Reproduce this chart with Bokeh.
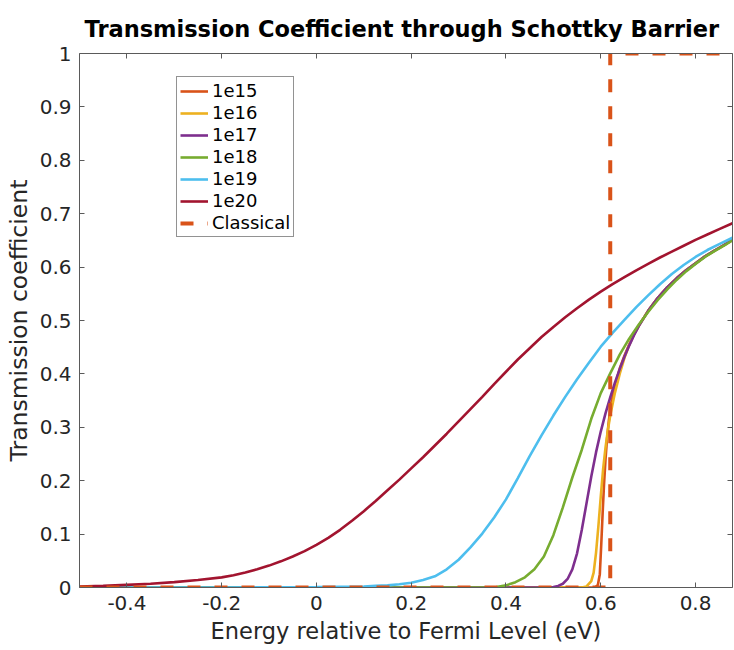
from bokeh.plotting import figure
from bokeh.models import Range1d, FixedTicker, LinearAxis
from bokeh.embed import file_html
from bokeh.resources import INLINE

FONT = "DejaVu Sans"
TXT = "#262626"
AXC = "#5a5a5a"

# axis ticks
x_ticks = [-0.4, -0.2, 0, 0.2, 0.4, 0.6, 0.8]
x_tick_labels = ["-0.4", "-0.2", "0", "0.2", "0.4", "0.6", "0.8"]
y_ticks = [0, 0.1, 0.2, 0.3, 0.4, 0.5, 0.6, 0.7, 0.8, 0.9, 1]
y_tick_labels = ["0", "0.1", "0.2", "0.3", "0.4", "0.5", "0.6", "0.7", "0.8", "0.9", "1"]

# doping concentrations and their colours
dopings = ["1e15", "1e16", "1e17", "1e18", "1e19", "1e20"]
colors = ["#D95319", "#EDB120", "#7E2F8E", "#77AC30", "#4DBEEE", "#A2142F"]

# energy (eV) and transmission coefficient per doping
e_1e15 = [-0.5, 0.588, 0.594, 0.598, 0.601, 0.604, 0.607, 0.610, 0.613, 0.617, 0.622,
          0.63, 0.64, 0.65, 0.66, 0.67, 0.68, 0.70, 0.72, 0.74, 0.76, 0.78, 0.80,
          0.82, 0.84, 0.86, 0.878]
t_1e15 = [0.0, 0.0, 0.005, 0.025, 0.080, 0.140, 0.195, 0.240, 0.276, 0.312, 0.345,
          0.378, 0.410, 0.434, 0.455, 0.474, 0.490, 0.518, 0.542, 0.562, 0.579, 0.594,
          0.607, 0.620, 0.631, 0.641, 0.651]

e_1e16 = [-0.5, 0.56, 0.57, 0.58, 0.585, 0.59, 0.595, 0.60, 0.605, 0.61, 0.615, 0.62,
          0.63, 0.64, 0.65, 0.66, 0.67, 0.68, 0.70, 0.72, 0.74, 0.76, 0.78, 0.80,
          0.82, 0.84, 0.86, 0.878]
t_1e16 = [0.0, 0.0, 0.002, 0.012, 0.028, 0.065, 0.115, 0.170, 0.222, 0.262, 0.295, 0.322,
          0.365, 0.400, 0.430, 0.454, 0.474, 0.490, 0.518, 0.542, 0.562, 0.579, 0.594,
          0.607, 0.620, 0.631, 0.641, 0.651]

e_1e17 = [-0.5, 0.49, 0.50, 0.51, 0.52, 0.53, 0.54, 0.55, 0.56, 0.57, 0.58, 0.59, 0.60,
          0.61, 0.62, 0.63, 0.64, 0.65, 0.66, 0.67, 0.68, 0.70, 0.72, 0.74, 0.76, 0.78,
          0.80, 0.82, 0.84, 0.86, 0.878]
t_1e17 = [0.0, 0.0, 0.001, 0.003, 0.007, 0.016, 0.034, 0.064, 0.108, 0.158, 0.208, 0.253,
          0.292, 0.326, 0.356, 0.384, 0.409, 0.432, 0.453, 0.472, 0.489, 0.518, 0.542,
          0.562, 0.579, 0.594, 0.607, 0.620, 0.631, 0.641, 0.651]

e_1e18 = [-0.5, 0.36, 0.38, 0.40, 0.42, 0.44, 0.46, 0.48, 0.50, 0.52, 0.54, 0.56, 0.58,
          0.60, 0.62, 0.64, 0.66, 0.68, 0.70, 0.72, 0.74, 0.76, 0.78, 0.80, 0.82, 0.84,
          0.86, 0.878]
t_1e18 = [0.0, 0.0, 0.001, 0.004, 0.010, 0.019, 0.034, 0.058, 0.098, 0.150, 0.206, 0.258,
          0.316, 0.364, 0.401, 0.436, 0.466, 0.492, 0.516, 0.538, 0.558, 0.576, 0.592,
          0.606, 0.619, 0.630, 0.640, 0.650]

e_1e19 = [-0.5, -0.2, 0.0, 0.05, 0.1, 0.125, 0.15, 0.175, 0.2, 0.225, 0.25, 0.275, 0.3,
          0.325, 0.35, 0.375, 0.4, 0.425, 0.45, 0.475, 0.5, 0.525, 0.55, 0.575, 0.6,
          0.625, 0.65, 0.675, 0.7, 0.725, 0.75, 0.775, 0.8, 0.825, 0.85, 0.878]
t_1e19 = [0.0, 0.0, 0.001, 0.0015, 0.002, 0.003, 0.004, 0.006, 0.009, 0.014, 0.021, 0.034,
          0.052, 0.075, 0.101, 0.131, 0.165, 0.205, 0.246, 0.285, 0.322, 0.357, 0.390,
          0.421, 0.451, 0.477, 0.501, 0.525, 0.547, 0.568, 0.587, 0.604, 0.619, 0.632,
          0.643, 0.655]

e_1e20 = [-0.5, -0.45, -0.4, -0.35, -0.3, -0.25, -0.2, -0.175, -0.15, -0.125, -0.1,
          -0.075, -0.05, -0.025, 0.0, 0.025, 0.05, 0.075, 0.1, 0.125, 0.15, 0.175, 0.2,
          0.225, 0.25, 0.275, 0.3, 0.325, 0.35, 0.375, 0.4, 0.425, 0.45, 0.475, 0.5,
          0.525, 0.55, 0.575, 0.6, 0.625, 0.65, 0.675, 0.7, 0.725, 0.75, 0.775, 0.8,
          0.825, 0.85, 0.878]
t_1e20 = [0.002, 0.003, 0.005, 0.007, 0.010, 0.014, 0.019, 0.023, 0.028, 0.034, 0.041,
          0.049, 0.058, 0.068, 0.080, 0.093, 0.108, 0.125, 0.143, 0.162, 0.182, 0.202,
          0.223, 0.244, 0.266, 0.288, 0.311, 0.334, 0.357, 0.381, 0.404, 0.427, 0.448,
          0.469, 0.488, 0.506, 0.523, 0.539, 0.554, 0.568, 0.581, 0.594, 0.606, 0.618,
          0.629, 0.640, 0.651, 0.661, 0.671, 0.682]

# classical (step) transmission at the barrier height
barrier = 0.62
e_classical = [-0.5, barrier, barrier, 0.878]
t_classical = [0.0, 0.0, 1.0, 1.0]

energies = [e_1e15, e_1e16, e_1e17, e_1e18, e_1e19, e_1e20]
transmissions = [t_1e15, t_1e16, t_1e17, t_1e18, t_1e19, t_1e20]

p = figure(
    width=734, height=650,
    x_range=Range1d(-0.5, 0.878), y_range=Range1d(0, 1),
    output_backend="svg", toolbar_location=None,
    title="Transmission Coefficient through Schottky Barrier",
    min_border_left=79, min_border_right=2, min_border_top=53, min_border_bottom=63,
)
p.background_fill_color = "white"
p.border_fill_color = "white"
p.outline_line_color = None
p.xgrid.visible = False
p.ygrid.visible = False

p.title.text_font = FONT
p.title.text_font_size = "22.5px"
p.title.text_font_style = "bold"
p.title.text_color = "black"
p.title.align = "left"
p.title.offset = 5
p.title.standoff = 23

for e, t, c, lab in zip(energies, transmissions, colors, dopings):
    p.line(e, t, line_color=c, line_width=2.6, legend_label=lab)

p.line(e_classical, t_classical, line_color="#D95319", line_width=4,
       line_dash="13 14", legend_label="Classical")


def style_axis(ax, show_labels):
    ax.axis_line_color = AXC
    ax.axis_line_width = 1
    ax.major_tick_line_color = AXC
    ax.major_tick_in = 5
    ax.major_tick_out = 0
    ax.minor_tick_line_color = None
    ax.major_label_text_font = FONT
    ax.major_label_text_color = TXT
    ax.axis_label_text_font = FONT
    ax.axis_label_text_color = TXT
    ax.axis_label_text_font_style = "normal"
    if not show_labels:
        # box-side axes: tick marks only
        ax.major_label_text_color = None
        ax.major_label_text_font_size = "1px"
        ax.major_label_standoff = 0


xa = p.xaxis[0]
xa.ticker = FixedTicker(ticks=x_ticks)
xa.major_label_overrides = dict(zip(x_ticks, x_tick_labels))
xa.axis_label = "Energy relative to Fermi Level (eV)"
style_axis(xa, True)
xa.major_label_text_font_size = "20px"
xa.axis_label_text_font_size = "22.5px"
xa.major_label_standoff = 8
xa.axis_label_standoff = 5

ya = p.yaxis[0]
ya.ticker = FixedTicker(ticks=y_ticks)
ya.major_label_overrides = dict(zip(y_ticks, y_tick_labels))
ya.axis_label = "Transmission coefficient"
style_axis(ya, True)
ya.major_label_text_font_size = "20px"
ya.axis_label_text_font_size = "23.5px"
ya.major_label_standoff = 8
ya.axis_label_standoff = 4

top = LinearAxis(ticker=FixedTicker(ticks=x_ticks))
style_axis(top, False)
p.add_layout(top, "above")
right = LinearAxis(ticker=FixedTicker(ticks=y_ticks))
style_axis(right, False)
p.add_layout(right, "right")

lg = p.legend[0]
lg.location = (97, 350)
lg.border_line_color = TXT
lg.border_line_width = 1
lg.background_fill_color = "white"
lg.background_fill_alpha = 1
lg.label_text_font = FONT
lg.label_text_font_size = "18px"
lg.label_text_color = "black"
lg.label_height = 20
lg.glyph_height = 20
lg.glyph_width = 28
lg.label_standoff = 4
lg.spacing = 1
lg.padding = 3
lg.margin = 0

open("out.html", "w").write(file_html(p, INLINE))
